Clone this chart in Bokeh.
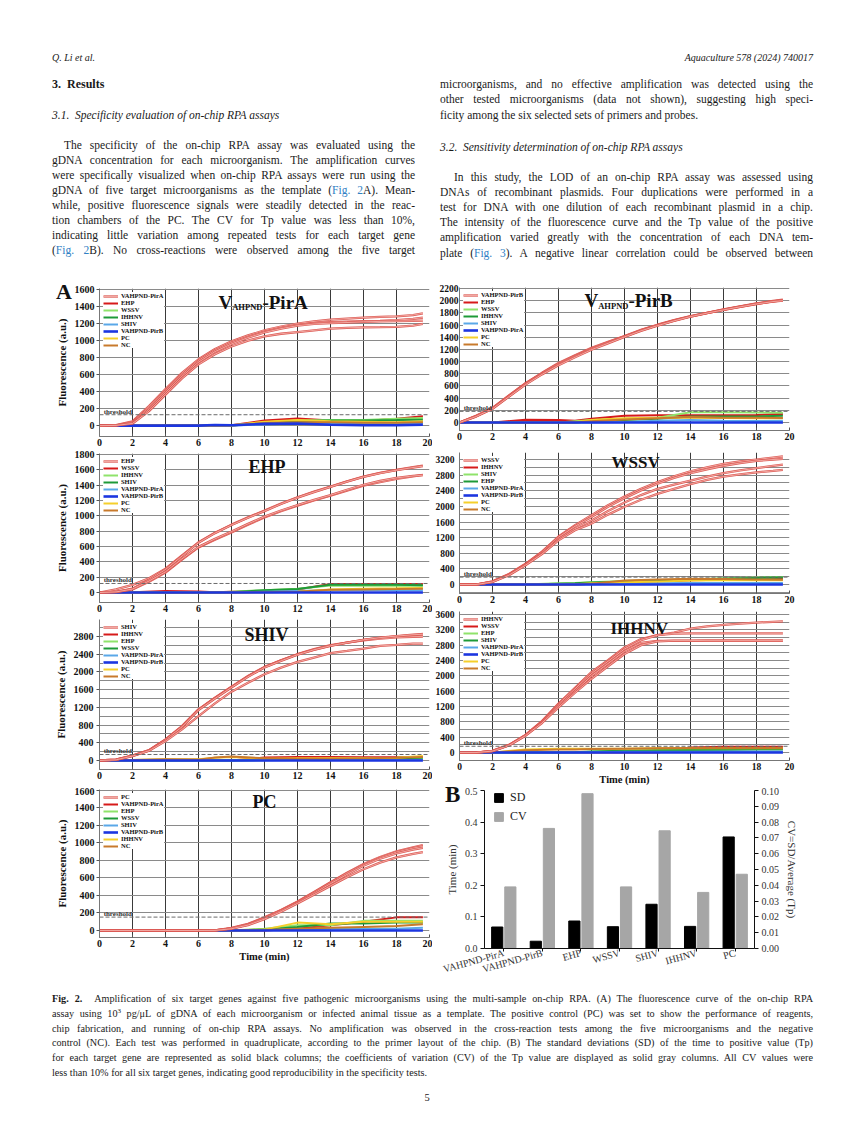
from bokeh.plotting import figure
from bokeh.models import (Range1d, FactorRange, FixedTicker, Legend, LegendItem, Label, Span,
                          Div, LinearAxis, ColumnDataSource, NumeralTickFormatter, GridBox)
from bokeh.layouts import column, row
from bokeh.transform import dodge
from bokeh.embed import file_html
from bokeh.resources import INLINE

FONT = "Liberation Serif"

# ---------------- data ----------------
t_pos = [0, 1, 2, 3, 4, 5, 6, 7, 8, 9, 10, 11, 12, 13, 14, 15, 16, 17, 18, 19, 19.6]
t_neg = [0, 2, 4, 6, 7, 8, 10, 12, 14, 16, 18, 19.6]

pira_pos = [
    [0, 5, 50, 230, 430, 620, 780, 900, 990, 1060, 1120, 1165, 1200, 1225, 1245, 1258, 1270, 1278, 1285, 1300, 1320],
    [0, 4, 40, 210, 410, 600, 765, 885, 975, 1045, 1105, 1150, 1185, 1205, 1215, 1222, 1228, 1232, 1240, 1255, 1270],
    [0, 3, 30, 190, 390, 580, 745, 870, 960, 1035, 1095, 1140, 1175, 1195, 1205, 1212, 1220, 1225, 1228, 1232, 1235],
    [0, 2, 25, 170, 365, 555, 720, 840, 930, 1000, 1050, 1080, 1100, 1120, 1140, 1150, 1155, 1158, 1162, 1175, 1195],
]
pira_neg = [
    [0, 0, 0, 0, 0, 5, 60, 85, 60, 55, 80, 110],
    [0, 0, 0, 0, 0, 0, 40, 60, 65, 65, 80, 90],
    [0, 0, 0, 0, 0, 0, 30, 55, 60, 60, 65, 70],
    [0, 0, 0, 0, 0, 0, 15, 20, 25, 20, 25, 30],
    [0, 0, 0, 0, 8, 5, 20, 25, 10, 5, 5, 10],
    [0, 0, 0, 0, 0, 5, 45, 65, 50, 45, 40, 50],
    [0, 0, 0, 0, 0, 0, 30, 40, 40, 35, 35, 40],
]
pirb_pos = [
    [0, 110, 240, 445, 645, 815, 975, 1105, 1225, 1325, 1420, 1520, 1605, 1680, 1745, 1800, 1855, 1905, 1955, 1995, 2015],
    [0, 105, 235, 440, 640, 810, 965, 1095, 1215, 1318, 1415, 1515, 1600, 1675, 1742, 1798, 1852, 1902, 1950, 1990, 2010],
    [0, 100, 228, 430, 630, 800, 950, 1085, 1205, 1310, 1410, 1510, 1595, 1672, 1740, 1796, 1850, 1900, 1948, 1988, 2005],
    [0, 98, 225, 425, 622, 790, 940, 1070, 1195, 1300, 1405, 1505, 1590, 1668, 1738, 1795, 1848, 1898, 1945, 1985, 2000],
]
pirb_neg = [
    [0, 0, 45, 40, 30, 60, 110, 120, 120, 120, 125, 140],
    [0, 0, 0, 0, 20, 40, 60, 80, 170, 170, 165, 160],
    [0, 0, 0, 0, 0, 20, 40, 60, 100, 100, 100, 110],
    [0, 0, 0, 0, 0, 0, 10, 30, 40, 30, 25, 30],
    [0, 0, 0, 0, 0, 0, 0, 0, 0, 0, 0, 0],
    [0, 0, 0, 0, 10, 40, 70, 80, 80, 75, 70, 70],
    [0, 0, 0, 0, 0, 20, 50, 70, 90, 80, 80, 75],
]
ehp_pos = [
    [0, 40, 100, 185, 310, 485, 655, 780, 885, 980, 1068, 1160, 1242, 1315, 1381, 1450, 1512, 1560, 1599, 1635, 1656],
    [0, 10, 50, 165, 300, 475, 650, 775, 880, 975, 1062, 1155, 1238, 1310, 1378, 1446, 1508, 1556, 1595, 1630, 1648],
    [0, 5, 40, 140, 261, 430, 588, 690, 784, 885, 980, 1060, 1133, 1200, 1264, 1330, 1394, 1440, 1481, 1515, 1534],
    [0, 8, 45, 150, 270, 440, 595, 700, 795, 895, 990, 1070, 1140, 1208, 1270, 1340, 1405, 1455, 1495, 1520, 1530],
]
ehp_neg = [
    [0, 5, 20, 15, 5, 10, 20, 40, 110, 110, 110, 110],
    [0, 0, 0, 0, 0, 10, 30, 50, 90, 90, 90, 90],
    [0, 0, 0, 0, 0, 5, 30, 45, 100, 100, 100, 95],
    [0, 0, 0, 0, 0, 0, 10, 20, 30, 35, 30, 30],
    [0, 0, 0, 0, 0, 0, 0, 0, 0, 0, 0, 0],
    [0, 0, 0, 0, 0, 0, 5, 10, 40, 50, 55, 60],
    [0, 0, 0, 0, 0, 0, 5, 10, 35, 40, 45, 50],
]
wssv_pos = [
    [0, 0, 80, 270, 530, 840, 1230, 1520, 1775, 2030, 2250, 2450, 2620, 2770, 2900, 3000, 3090, 3150, 3200, 3250, 3280],
    [0, 0, 75, 260, 520, 830, 1210, 1490, 1730, 1990, 2210, 2410, 2580, 2730, 2850, 2950, 3040, 3110, 3165, 3200, 3215],
    [0, 0, 70, 250, 505, 800, 1160, 1430, 1640, 1880, 2100, 2290, 2450, 2560, 2660, 2760, 2850, 2920, 2980, 3040, 3070],
    [0, 0, 65, 240, 495, 780, 1130, 1390, 1560, 1790, 1990, 2170, 2320, 2450, 2570, 2680, 2760, 2820, 2870, 2910, 2935],
]
wssv_neg = [
    [0, 0, 0, 0, 0, 20, 60, 80, 110, 120, 130, 140],
    [0, 0, 0, 30, 40, 60, 90, 110, 130, 160, 180, 190],
    [0, 0, 0, 20, 30, 50, 70, 90, 120, 150, 170, 180],
    [0, 0, 0, 0, 0, 10, 20, 30, 40, 40, 40, 40],
    [0, 0, 0, 0, 0, 0, 0, 0, 0, 0, 0, 0],
    [0, 0, 0, 0, 10, 30, 60, 80, 100, 110, 110, 110],
    [0, 0, 0, 0, 0, 20, 100, 130, 150, 140, 130, 120],
]
shiv_pos = [
    [0, 20, 113, 234, 475, 777, 1155, 1419, 1668, 1909, 2113, 2264, 2400, 2513, 2604, 2664, 2724, 2770, 2800, 2830, 2860],
    [0, 20, 110, 230, 470, 770, 1150, 1410, 1660, 1900, 2105, 2260, 2395, 2505, 2595, 2660, 2715, 2750, 2780, 2795, 2800],
    [0, 18, 105, 225, 465, 760, 1140, 1400, 1650, 1890, 2100, 2250, 2390, 2500, 2590, 2660, 2725, 2775, 2810, 2840, 2850],
    [0, 15, 100, 220, 438, 702, 1004, 1291, 1555, 1758, 1947, 2098, 2226, 2325, 2423, 2475, 2528, 2589, 2611, 2640, 2641],
]
shiv_neg = [
    [0, 0, 0, 0, 0, 0, 70, 80, 80, 75, 75, 80],
    [0, 0, 0, 0, 0, 0, 20, 30, 40, 50, 60, 70],
    [0, 0, 0, 0, 0, 0, 10, 20, 30, 40, 50, 60],
    [0, 0, 0, 0, 0, 0, 5, 10, 10, 10, 10, 10],
    [0, 0, 0, 0, 0, 0, 0, 0, 0, 0, 0, 0],
    [0, 10, 30, 30, 60, 80, 40, 50, 50, 50, 60, 100],
    [0, 10, 30, 20, 70, 90, 50, 40, 40, 50, 60, 80],
]
ihhnv_pos = [
    [0, 0, 45, 200, 460, 820, 1280, 1690, 2100, 2410, 2740, 2960, 3060, 3130, 3230, 3290, 3330, 3360, 3390, 3410, 3420],
    [0, 0, 45, 195, 455, 810, 1260, 1660, 2060, 2380, 2700, 2930, 3060, 3100, 3110, 3110, 3110, 3110, 3110, 3110, 3110],
    [0, 0, 40, 190, 445, 790, 1220, 1600, 2000, 2320, 2640, 2860, 2910, 2910, 2910, 2910, 2910, 2910, 2910, 2910, 2910],
    [0, 0, 38, 185, 440, 770, 1180, 1560, 1920, 2250, 2570, 2800, 2900, 2920, 2920, 2925, 2925, 2925, 2925, 2925, 2925],
]
ihhnv_neg = [
    [0, 0, 0, 0, 0, 0, 0, 0, 130, 150, 150, 150],
    [0, 0, 0, 0, 0, 20, 50, 70, 80, 90, 90, 90],
    [0, 0, 0, 0, 10, 30, 50, 60, 70, 70, 80, 80],
    [0, 0, 0, 0, 0, 10, 20, 20, 20, 30, 30, 30],
    [0, 0, 0, 0, 0, 0, 0, 0, 0, 0, 0, 0],
    [0, 0, 80, 100, 100, 100, 100, 110, 110, 110, 110, 110],
    [0, 0, 60, 80, 80, 90, 100, 110, 120, 120, 120, 120],
]
pc_pos = [
    [0, 0, 0, 0, 0, 0, 0, 2, 30, 75, 150, 235, 330, 440, 550, 660, 760, 840, 905, 950, 975],
    [0, 0, 0, 0, 0, 0, 0, 2, 25, 70, 145, 230, 325, 435, 545, 655, 750, 830, 895, 940, 960],
    [0, 0, 0, 0, 0, 0, 0, 1, 25, 68, 140, 225, 320, 425, 535, 640, 740, 820, 880, 925, 945],
    [0, 0, 0, 0, 0, 0, 0, 1, 20, 62, 130, 215, 310, 410, 510, 610, 700, 775, 835, 875, 895],
]
pc_neg = [
    [0, 0, 0, 0, 0, 0, 0, 20, 60, 100, 150, 150],
    [0, 0, 0, 0, 0, 0, 20, 60, 60, 110, 110, 110],
    [0, 0, 0, 0, 0, 0, 10, 40, 80, 80, 90, 90],
    [0, 0, 0, 0, 0, 0, 5, 10, 20, 20, 20, 30],
    [0, 0, 0, 0, 0, 0, 0, 0, 0, 0, 0, 0],
    [0, 0, 0, 0, 0, 0, 10, 90, 70, 100, 100, 100],
    [0, 0, 0, 0, 0, 0, 5, 20, 30, 40, 50, 70],
]

pira_names = ["VAHPND-PirA", "EHP", "WSSV", "IHHNV", "SHIV", "VAHPND-PirB", "PC", "NC"]
pirb_names = ["VAHPND-PirB", "EHP", "WSSV", "IHHNV", "SHIV", "VAHPND-PirA", "PC", "NC"]
ehp_names = ["EHP", "WSSV", "IHHNV", "SHIV", "VAHPND-PirA", "VAHPND-PirB", "PC", "NC"]
wssv_names = ["WSSV", "IHHNV", "SHIV", "EHP", "VAHPND-PirA", "VAHPND-PirB", "PC", "NC"]
shiv_names = ["SHIV", "IHHNV", "EHP", "WSSV", "VAHPND-PirA", "VAHPND-PirB", "PC", "NC"]
ihhnv_names = ["IHHNV", "WSSV", "EHP", "SHIV", "VAHPND-PirA", "VAHPND-PirB", "PC", "NC"]
pc_names = ["PC", "VAHPND-PirA", "EHP", "WSSV", "SHIV", "VAHPND-PirB", "IHHNV", "NC"]

thresholds = {"pira": 128, "pirb": 183, "ehp": 118, "wssv": 189, "shiv": 136, "ihhnv": 164, "pc": 153}

x_ticks = [0, 2, 4, 6, 8, 10, 12, 14, 16, 18, 20]
ticks_200_1600 = [0, 200, 400, 600, 800, 1000, 1200, 1400, 1600]
ticks_200_1800 = [0, 200, 400, 600, 800, 1000, 1200, 1400, 1600, 1800]
ticks_200_2200 = [0, 200, 400, 600, 800, 1000, 1200, 1400, 1600, 1800, 2000, 2200]
ticks_400_3200 = [0, 400, 800, 1200, 1600, 2000, 2400, 2800, 3200]
ticks_400_2800 = [0, 400, 800, 1200, 1600, 2000, 2400, 2800]
ticks_400_3600 = [0, 400, 800, 1200, 1600, 2000, 2400, 2800, 3200, 3600]
minor_200_3400 = [200, 600, 1000, 1400, 1800, 2200, 2600, 3000, 3400, -200]
minor_200_3000 = [200, 600, 1000, 1400, 1800, 2200, 2600, 3000, -200]

bar_cats = ["VAHPND-PirA", "VAHPND-PirB", "EHP", "WSSV", "SHIV", "IHHNV", "PC"]
sd_vals = [0.068, 0.023, 0.087, 0.069, 0.14, 0.07, 0.353]
cv_vals = [0.039, 0.076, 0.098, 0.039, 0.0745, 0.0355, 0.047]

# ---------------- styles ----------------
NEG_COLORS = ["#d61a1a", "#8fe36b", "#1e9a38", "#5aa8e8", "#1c36e0", "#f5cf2b", "#c87a2c"]
POS_BASE = "#dc5a54"
POS_HI = "#f7bbb5"

BW = {'A': .722, 'B': .667, 'C': .722, 'D': .722, 'E': .667, 'H': .778, 'I': .389, 'N': .722,
      'P': .611, 'S': .556, 'V': .722, 'W': 1.0, '-': .333, 'i': .278, 'r': .444}


def add_title(p, parts, dx, dy):
    x = dx
    for txt, size, drop in parts:
        p.add_layout(Label(x=x, y=dy - drop, x_units="screen", y_units="screen", text=txt,
                           text_font=FONT, text_font_style="bold", text_font_size=f"{size}px",
                           text_color="#111111", text_baseline="alphabetic", text_align="left"))
        x += sum(BW.get(c, .6) for c in txt) * size


def letter_div(letter, left, top, size, w, h):
    html = (f'<div style="position:relative;width:{w}px;height:{h}px;">'
            f'<div style="position:absolute;left:{left}px;top:{top}px;font-family:\'Liberation Serif\',serif;'
            f'font-weight:bold;font-size:{size}px;line-height:{size}px;color:#111111;">{letter}</div></div>')
    return Div(text=html, width=w, height=h)


def line_panel(width, height, bl, br, bt, bb, yr, yticks, yminor, pos, neg, names, thr,
               title_parts, title_dx, title_from_top, ylabel=None, xlabel=None,
               ytick_size="10px", ytick_out=3, ystand=2, xtick_size="10px"):
    p = figure(width=width, height=height, x_range=Range1d(0, 20), y_range=Range1d(*yr),
               output_backend="svg", toolbar_location=None, title=None,
               min_border_left=bl, min_border_right=br, min_border_top=bt, min_border_bottom=bb,
               background_fill_color="white", border_fill_color="white", outline_line_color=None)
    frame_h = height - bt - bb
    p.xaxis.ticker = FixedTicker(ticks=x_ticks)
    p.yaxis.ticker = FixedTicker(ticks=yticks, minor_ticks=yminor or [])
    for ax in (p.xaxis[0], p.yaxis[0]):
        ax.major_label_text_font = FONT
        ax.major_label_text_font_style = "bold"
        ax.major_label_text_color = "#111111"
        ax.axis_line_color = "#777777"
        ax.major_tick_line_color = "#555555"
        ax.minor_tick_line_color = None
        ax.major_tick_in = 0
    p.xaxis.major_label_text_font_size = xtick_size
    p.xaxis.major_tick_out = 0
    p.xaxis.major_tick_in = 3
    p.xaxis.major_label_standoff = 2
    p.yaxis.major_label_text_font_size = ytick_size
    p.yaxis.major_tick_out = ytick_out
    p.yaxis.major_label_standoff = ystand
    if ylabel:
        p.yaxis.axis_label = ylabel
        p.yaxis.axis_label_text_font = FONT
        p.yaxis.axis_label_text_font_style = "bold"
        p.yaxis.axis_label_text_font_size = "11px"
        p.yaxis.axis_label_text_color = "#111111"
        p.yaxis.axis_label_standoff = 4
    if xlabel:
        p.xaxis.axis_label = xlabel
        p.xaxis.axis_label_text_font = FONT
        p.xaxis.axis_label_text_font_style = "bold"
        p.xaxis.axis_label_text_font_size = "10.5px"
        p.xaxis.axis_label_text_color = "#111111"
        p.xaxis.axis_label_standoff = 1
    p.xgrid.grid_line_color = "#3a3a3a"
    p.xgrid.grid_line_width = 1
    p.ygrid.grid_line_color = "#8a8a8a"
    p.ygrid.grid_line_width = 1
    if yminor:
        p.ygrid.minor_grid_line_color = "#8a8a8a"

    # threshold
    p.add_layout(Span(location=thr, dimension="width", line_color="#6a6a6a",
                      line_dash="4 2", line_width=1))
    px_per_unit = frame_h / (yr[1] - yr[0])
    p.add_layout(Label(x=0.25, y=thr + 3 / px_per_unit, text="threshold", text_font=FONT,
                       text_font_style="bold", text_font_size="7px", text_color="#333333",
                       text_baseline="alphabetic"))

    neg_r = []
    for i, vals in enumerate(neg):
        if i == 4:
            continue
        neg_r.append((i, p.line(t_neg, vals, line_color=NEG_COLORS[i], line_width=2)))
    base_r = (4, p.line(t_neg, neg[4], line_color=NEG_COLORS[4], line_width=2.6))
    neg_r.append(base_r)
    neg_r.sort(key=lambda a: a[0])

    first = None
    for vals in pos:
        r1 = p.line(t_pos, vals, line_color=POS_BASE, line_width=2.3)
        r2 = p.line(t_pos, vals, line_color=POS_HI, line_width=0.8)
        if first is None:
            first = [r1, r2]

    items = [LegendItem(label=names[0], renderers=first)]
    for i, r in neg_r:
        items.append(LegendItem(label=names[i + 1], renderers=[r]))
    leg = Legend(items=items, location="top_left", margin=4, padding=3, spacing=0,
                 label_text_font=FONT, label_text_font_style="bold", label_text_font_size="6.5px",
                 label_text_color="#111111", label_height=6, glyph_height=6, glyph_width=15,
                 label_standoff=3, background_fill_color="white", background_fill_alpha=1.0,
                 border_line_color=None)
    p.add_layout(leg)

    add_title(p, title_parts, title_dx, frame_h - title_from_top)
    return p


LB, LR = 99, 3      # left-column borders
RB, RR = 21, 55     # right-column borders

pa = line_panel(432, 170, LB, LR, 8, 14, (-128, 1612), ticks_200_1600, None, pira_pos, pira_neg,
                pira_names, thresholds["pira"], [("V", 19, 0), ("AHPND", 8.5, 4), ("-PirA", 19, 0)],
                119, 14, ylabel="Fluorescence (a.u.)")
pe = line_panel(432, 166, LB, LR, 3, 14, (-130, 1813), ticks_200_1800, None, ehp_pos, ehp_neg,
                ehp_names, thresholds["ehp"], [("EHP", 18, 0)], 149, 13, ylabel="Fluorescence (a.u.)")
ps = line_panel(432, 171, LB, LR, 3, 18, (-203, 3184), ticks_400_2800, minor_200_3000, shiv_pos, shiv_neg,
                shiv_names, thresholds["shiv"], [("SHIV", 18, 0)], 145, 15, ylabel="Fluorescence (a.u.)")
ppc = line_panel(432, 195, LB, LR, 2, 45, (-80, 1611), ticks_200_1600, None, pc_pos, pc_neg,
                 pc_names, thresholds["pc"], [("PC", 18, 0)], 153, 12, ylabel="Fluorescence (a.u.)",
                 xlabel="Time (min)")

pb = line_panel(412, 168, RB, RR, 7, 18, (-131, 2216), ticks_200_2200, None, pirb_pos, pirb_neg,
                pirb_names, thresholds["pirb"], [("V", 19, 0), ("AHPND", 8.5, 5), ("-PirB", 19, 0)],
                125, 13, ytick_size="9.5px", ytick_out=0, ystand=1)
pw = line_panel(412, 160, RB, RR, 4, 15, (-230, 3380), ticks_400_3200, minor_200_3400, wssv_pos, wssv_neg,
                wssv_names, thresholds["wssv"], [("WSSV", 17, 0)], 152, 10,
                ytick_size="9.5px", ytick_out=0, ystand=1)
pi = line_panel(412, 179, RB, RR, 3, 26, (-207, 3678), ticks_400_3600, minor_200_3400, ihhnv_pos, ihhnv_neg,
                ihhnv_names, thresholds["ihhnv"], [("IHHNV", 17, 0)], 151, 18, xlabel="Time (min)",
                ytick_size="9.5px", ytick_out=0, ystand=1, xtick_size="9.5px")

# ---------------- bar chart B ----------------
src = ColumnDataSource(dict(cat=bar_cats, sd=sd_vals, cv=cv_vals))
bp = figure(width=412, height=195, x_range=FactorRange(*bar_cats), y_range=Range1d(0, 0.5),
            output_backend="svg", toolbar_location=None, title=None,
            min_border_left=52, min_border_right=90, min_border_top=3, min_border_bottom=32,
            outline_line_color=None, background_fill_color="white", border_fill_color="white")
bp.extra_y_ranges = {"cv": Range1d(0, 0.1)}
r_sd = bp.vbar(x=dodge("cat", -0.17, range=bp.x_range), top="sd", width=0.29, source=src,
               fill_color="#000000", line_color="#000000")
r_cv = bp.vbar(x=dodge("cat", 0.17, range=bp.x_range), top="cv", width=0.29, source=src,
               fill_color="#a6a6a6", line_color="#a6a6a6", y_range_name="cv")
bp.xgrid.grid_line_color = None
bp.ygrid.grid_line_color = None
bp.yaxis.ticker = FixedTicker(ticks=[0, 0.1, 0.2, 0.3, 0.4, 0.5])
bp.yaxis.formatter = NumeralTickFormatter(format="0.0")
bp.yaxis.axis_label = "Time (min)"
ax_r = LinearAxis(y_range_name="cv", axis_label="CV=SD/Average (Tp)",
                  ticker=FixedTicker(ticks=[0, 0.01, 0.02, 0.03, 0.04, 0.05, 0.06, 0.07, 0.08, 0.09, 0.1]),
                  formatter=NumeralTickFormatter(format="0.00"))
bp.add_layout(ax_r, "right")
for ax in (bp.xaxis[0], bp.yaxis[0], ax_r):
    ax.major_label_text_font = FONT
    ax.major_label_text_color = "#333333"
    ax.axis_line_color = "#111111"
    ax.major_tick_line_color = "#111111"
    ax.minor_tick_line_color = None
    ax.major_tick_in = 0
    ax.major_tick_out = 4
    ax.major_label_standoff = 3
    ax.axis_label_text_font = FONT
    ax.axis_label_text_font_style = "normal"
    ax.axis_label_text_font_size = "11px"
    ax.axis_label_text_color = "#333333"
    ax.axis_label_standoff = 4
bp.yaxis[0].major_label_text_font_size = "10px"
ax_r.major_label_text_font_size = "10px"
bp.xaxis.major_label_text_font_size = "10px"
bp.xaxis.major_label_orientation = 0.27
bp.xaxis.major_tick_out = 3
bp.xaxis.major_label_standoff = 1
bleg = Legend(items=[LegendItem(label="SD", renderers=[r_sd]), LegendItem(label="CV", renderers=[r_cv])],
              location=(9, 124), margin=0, padding=0, spacing=4, glyph_width=11, glyph_height=11,
              label_height=11, label_standoff=6, label_text_font=FONT, label_text_font_size="12px",
              label_text_color="#222222", border_line_color=None, background_fill_alpha=0)
bp.add_layout(bleg)

# panel letters overlaid in the same grid cells as their plots
div_a = letter_div("A", 51, -4, 22, 80, 26)
div_b = letter_div("B", 8, -9, 23, 40, 26)
box_a = GridBox(children=[(pa, 0, 0), (div_a, 0, 0)], spacing=0)
box_b = GridBox(children=[(bp, 0, 0), (div_b, 0, 0)], spacing=0)
box_pc = GridBox(children=[(ppc, 0, 0)], spacing=0)

top_block = row(column(box_a, pe, ps, spacing=0), column(pb, pw, pi, spacing=0), spacing=0)
bottom_block = row(box_pc, box_b, spacing=0)

# ---------------- text ----------------
LINK = '<span style="color:#2f80c4">{}</span>'


def ln(txt, x, y, w, size=11.5, align="justify", extra=""):
    return (f'<div style="position:absolute;left:{x}px;top:{y:.1f}px;width:{w}px;font-size:{size}px;'
            f'line-height:15px;text-align:{align};text-align-last:{align};{extra}">{txt}</div>')


left_par = [
    "The specificity of the on-chip RPA assay was evaluated using the",
    "gDNA concentration for each microorganism. The amplification curves",
    "were specifically visualized when on-chip RPA assays were run using the",
    "gDNA of five target microorganisms as the template (" + LINK.format("Fig. 2") + "A). Mean-",
    "while, positive fluorescence signals were steadily detected in the reac-",
    "tion chambers of the PC. The CV for Tp value was less than 10%,",
    "indicating little variation among repeated tests for each target gene",
    "(" + LINK.format("Fig. 2") + "B). No cross-reactions were observed among the five target",
]
right_top = [
    "microorganisms, and no effective amplification was detected using the",
    "other tested microorganisms (data not shown), suggesting high speci-",
    "ficity among the six selected sets of primers and probes.",
]
right_par = [
    "In this study, the LOD of an on-chip RPA assay was assessed using",
    "DNAs of recombinant plasmids. Four duplications were performed in a",
    "test for DNA with one dilution of each recombinant plasmid in a chip.",
    "The intensity of the fluorescence curve and the Tp value of the positive",
    "amplification varied greatly with the concentration of each DNA tem-",
    "plate (" + LINK.format("Fig. 3") + "). A negative linear correlation could be observed between",
]

D = 4.5
parts = []
parts.append(ln("Q. Li et al.", 47, 40 + D, 200, size=10, align="left", extra="font-style:italic;"))
parts.append(ln("Aquaculture 578 (2024) 740017", 508, 40 + D, 300, size=10, align="right", extra="font-style:italic;"))
parts.append(ln("3.&nbsp;&nbsp;Results", 47, 67.5 + D, 200, size=12, align="left", extra="font-weight:bold;"))
parts.append(ln("3.1.&nbsp;&nbsp;Specificity evaluation of on-chip RPA assays", 47, 98 + D, 363, align="left",
                extra="font-style:italic;"))
for i, t in enumerate(left_par):
    indent = 12 if i == 0 else 0
    parts.append(ln(t, 47 + indent, 128 + D + 15.05 * i, 363 - indent))
right_ys = [67.5, 82.5, 98]
for i, t in enumerate(right_top):
    parts.append(ln(t, 435, right_ys[i] + D, 373, align="justify" if i < 2 else "left"))
parts.append(ln("3.2.&nbsp;&nbsp;Sensitivity determination of on-chip RPA assays", 435, 130 + D, 373, align="left",
                extra="font-style:italic;"))
for i, t in enumerate(right_par):
    indent = 14 if i == 0 else 0
    parts.append(ln(t, 435 + indent, 160 + D + 15.2 * i, 373 - indent))

text_html = ('<div style="position:relative;width:844px;height:270px;font-family:\'Liberation Serif\',serif;'
             'color:#1a1a1a;">' + "".join(parts) + '</div>')
text_div = Div(text=text_html, width=844, height=270)

cap_lines = [
    "<b>Fig. 2.</b>&nbsp;&nbsp;Amplification of six target genes against five pathogenic microorganisms using the multi-sample on-chip RPA. (A) The fluorescence curve of the on-chip RPA",
    "assay using 10<span style=\"font-size:7px;vertical-align:4px;line-height:0\">3</span> pg/μL of gDNA of each microorganism or infected animal tissue as a template. The positive control (PC) was set to show the performance of reagents,",
    "chip fabrication, and running of on-chip RPA assays. No amplification was observed in the cross-reaction tests among the five microorganisms and the negative",
    "control (NC). Each test was performed in quadruplicate, according to the primer layout of the chip. (B) The standard deviations (SD) of the time to positive value (Tp)",
    "for each target gene are represented as solid black columns; the coefficients of variation (CV) of the Tp value are displayed as solid gray columns. All CV values were",
    "less than 10% for all six target genes, indicating good reproducibility in the specificity tests.",
]
cparts = []
for i, t in enumerate(cap_lines):
    al = "justify" if i < len(cap_lines) - 1 else "left"
    cparts.append(f'<div style="position:absolute;left:47px;top:{5 + 14.8 * i:.1f}px;width:761px;font-size:10.2px;'
                  f'line-height:14px;text-align:{al};text-align-last:{al};">{t}</div>')
cparts.append('<div style="position:absolute;left:402px;top:104px;width:40px;font-size:10.5px;'
              'line-height:14px;text-align:center;">5</div>')
cap_html = ('<div style="position:relative;width:844px;height:150px;font-family:\'Liberation Serif\',serif;'
            'color:#1a1a1a;">' + "".join(cparts) + '</div>')
cap_div = Div(text=cap_html, width=844, height=150)

layout = column(text_div, top_block, bottom_block, cap_div, spacing=0)

open("out.html", "w").write(file_html(layout, INLINE))
